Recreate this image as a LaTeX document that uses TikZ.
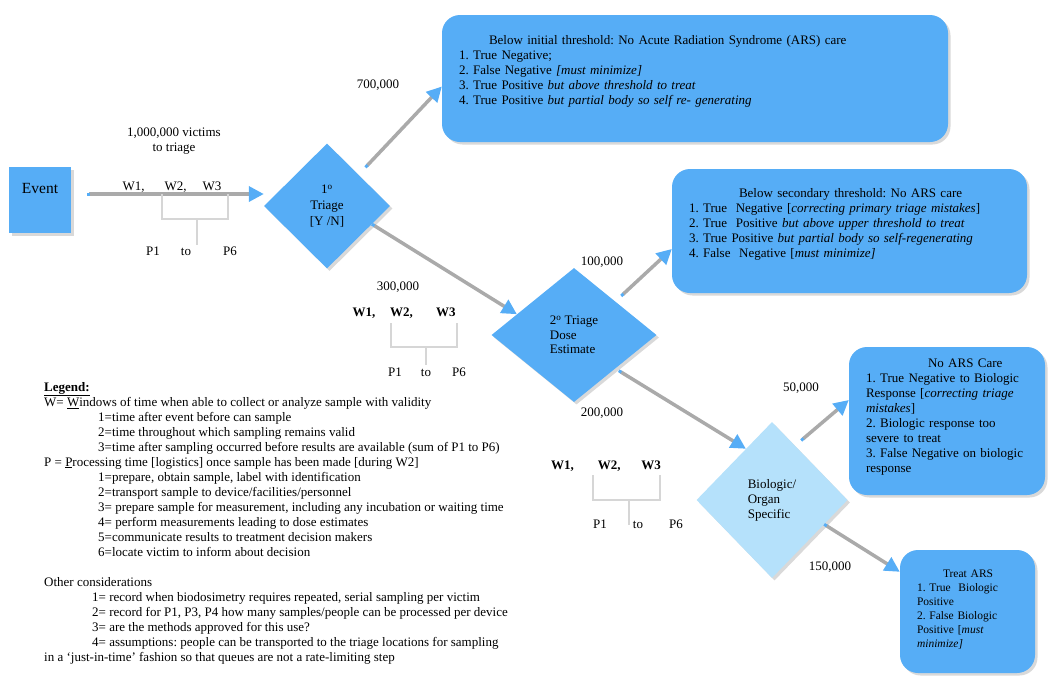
\documentclass[tikz,border=0pt]{standalone}
\usepackage{fontspec}
\setmainfont{Liberation Serif}
\usetikzlibrary{arrows.meta,shapes.geometric,shadows}
\definecolor{boxblue}{RGB}{86,173,246}
\definecolor{paleblue}{RGB}{181,225,251}
\definecolor{linegray}{RGB}{170,170,170}
\definecolor{brackgray}{RGB}{214,214,214}
\newcommand{\bodysize}{\fontsize{13}{15}\selectfont}
\frenchspacing

\begin{document}
\begin{tikzpicture}[
  x=1pt, y=-1pt,
  font=\bodysize,
  dshadow/.style={drop shadow={shadow xshift=2.5pt, shadow yshift=-2.5pt, opacity=0.3}},
  outbox/.style={fill=boxblue, rounded corners=18pt, dshadow, align=left, inner xsep=17pt, inner ysep=4pt, text height=9pt},
  decision/.style={diamond, fill=boxblue, dshadow, inner sep=0pt, align=center},
  arr/.style={{Square[length=3pt,width=3pt,color=boxblue]}-{Triangle[length=15pt,width=15pt,color=boxblue]}, draw=linegray, line width=3.5pt},
  brack/.style={draw=brackgray, line width=2pt},
  qty/.style={inner sep=1pt, align=center}
]
\useasboundingbox (0,0) rectangle (1050,686);

\node[fill=boxblue, dshadow, minimum width=62pt, minimum height=66pt, inner sep=0pt,
  font=\fontsize{15.5}{18}\selectfont, text height=10pt, text depth=24pt] (event) at (40,200) {Event};

\node[decision, minimum width=126pt, minimum height=125pt, font=\fontsize{13}{16}\selectfont] (d1) at (327,206) {1\textsuperscript{o}\\Triage\\{[Y /N]}};
\node[decision, minimum width=165pt, minimum height=134pt, align=left, font=\fontsize{13}{14.5}\selectfont] (d2) at (574,335) {2\textsuperscript{o} Triage\\Dose\\Estimate};
\node[decision, fill=paleblue, minimum width=151pt, minimum height=156pt, align=left] (d3) at (772,500) {Biologic/\\Organ\\Specific};

\node[outbox, text width=472pt, minimum height=127pt, text depth=78pt] (b1) at (695,78.5) {%
\hspace*{30pt}Below initial threshold: No Acute Radiation Syndrome (ARS) care\\
1. True Negative;\\
2. False Negative \textit{[must minimize]}\\
3. True Positive \textit{but above threshold to treat}\\
4. True Positive \textit{but partial body so self re- generating}};
\node[outbox, text width=321pt, minimum height=124pt, text depth=77pt] (b2) at (849.5,231) {%
\hspace*{50pt}Below secondary threshold: No ARS care\\
1. True\ \ Negative [\textit{correcting primary triage mistakes}]\\
2. True\ \ Positive \textit{but above upper threshold to treat}\\
3. True Positive \textit{but partial body so self-regenerating}\\
4. False\ \ Negative [\textit{must minimize]}};
\node[outbox, text width=162pt, minimum width=194pt, minimum height=148pt, text depth=117pt] (b3) at (947,421) {%
\hspace*{62pt}No ARS Care\\
1. True Negative to Biologic\\
Response [\textit{correcting triage}\\
\textit{mistakes}]\\
2. Biologic response too\\
severe to treat\\
3. False Negative on biologic\\
response};
\node[outbox, text width=101pt, minimum height=123pt, text depth=78pt, font=\fontsize{11.5}{14}\selectfont] (b4) at (967.5,611.5) {%
\hspace*{26pt}Treat ARS\\
1. True\ \ Biologic\\
Positive\\
2. False Biologic\\
Positive [\textit{must}\\
\textit{minimize]}};

\node[qty] (q1000) at (174,141) {1,000,000 victims\\to triage};
\node[qty] (q700) at (378,85) {700,000};
\node[qty] (q300) at (398,287) {300,000};
\node[qty] (q100) at (602,262) {100,000};
\node[qty] (q200) at (602,413) {200,000};
\node[qty] (q50) at (801,388) {50,000};
\node[qty] (q150) at (830,567) {150,000};

\draw[arr] ([shift={(16pt,6pt)}]event.east) coordinate (evout) -- (evout -| d1.west);
\draw[arr, shorten <=10pt] (d1.north east) -- ([yshift=-8pt]b1.west);
\draw[arr] (d1.-22) -- (d2.160);
\draw[arr, shorten <=8pt] (d2.north east) -- ([yshift=-18pt]b2.west);
\draw[arr, shorten <=4pt] (d2.south east) -- (d3.117);
\draw[arr, shorten <=8pt] (d3.67) -- ([yshift=21pt]b3.west);
\draw[arr] (d3.-25) -- ([yshift=-22pt]b4.north west);

\node (win1) at (172,187) {W1,\hspace{20pt}W2,\hspace{16pt}W3};
\node (proc1) at (191.5,251) {P1\hspace{21pt}to\hspace{32pt}P6};
\draw[brack] (162,194) |- (228,219) -- (228,194) (197,219) -- (197,245);

\node[font=\bodysize\bfseries] (win2) at (404,313) {W1,\hspace{15pt}W2,\hspace{23pt}W3};
\node (proc2) at (427,372) {P1\hspace{19pt}to\hspace{21pt}P6};
\draw[brack] (391,323) |- (457,347) -- (457,323) (426,347) -- (426,365);

\node[font=\bodysize\bfseries] (win3) at (606,466) {W1,\hspace{24pt}W2,\hspace{21pt}W3};
\node (proc3) at (638,524) {P1\hspace{26pt}to\hspace{26pt}P6};
\draw[brack] (593,475) |- (660,500) -- (660,475) (629,500) -- (629,525);

\node[anchor=north west, align=left, inner sep=0pt] (legend) at (44,382) {%
\textbf{\underline{Legend:}}\\
W= \underline{W}indows of time when able to collect or analyze sample with validity\\
\hspace*{54pt}1=time after event before can sample\\
\hspace*{54pt}2=time throughout which sampling remains valid\\
\hspace*{54pt}3=time after sampling occurred before results are available (sum of P1 to P6)\\
P = \underline{P}rocessing time [logistics] once sample has been made [during W2]\\
\hspace*{54pt}1=prepare, obtain sample, label with identification\\
\hspace*{54pt}2=transport sample to device/facilities/personnel\\
\hspace*{54pt}3= prepare sample for measurement, including any incubation or waiting time\\
\hspace*{54pt}4= perform measurements leading to dose estimates\\
\hspace*{54pt}5=communicate results to treatment decision makers\\
\hspace*{54pt}6=locate victim to inform about decision\\[15pt]
Other considerations\\
\hspace*{48pt}1= record when biodosimetry requires repeated, serial sampling per victim\\
\hspace*{48pt}2= record for P1, P3, P4 how many samples/people can be processed per device\\
\hspace*{48pt}3= are the methods approved for this use?\\
\hspace*{48pt}4= assumptions: people can be transported to the triage locations for sampling\\
in a ‘just-in-time’ fashion so that queues are not a rate-limiting step};
\end{tikzpicture}
\end{document}
